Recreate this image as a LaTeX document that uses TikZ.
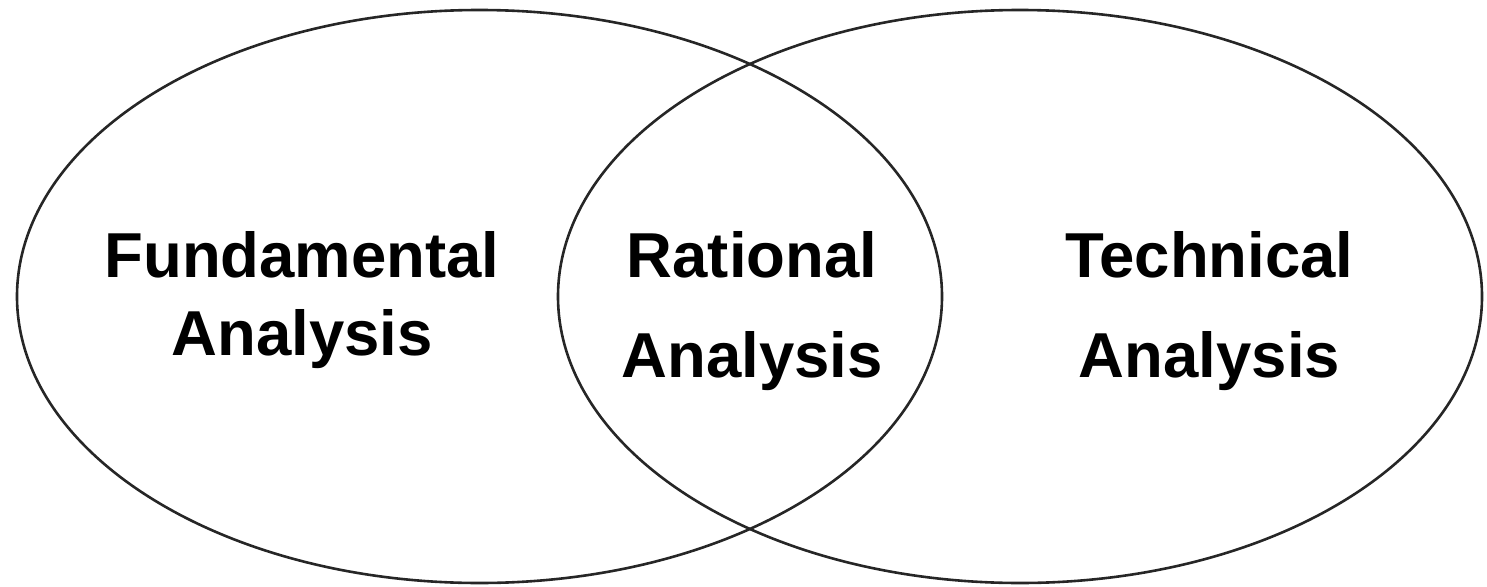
\documentclass[tikz,border=0pt]{standalone}
\usepackage{fontspec}
\setmainfont{Liberation Sans}
\begin{document}
\begin{tikzpicture}[x=1pt,y=-1pt,
  setring/.style={draw=black!85,line width=2.6pt},
  lbl/.style={font=\bfseries\fontsize{63.5}{78}\selectfont,align=center,inner sep=0pt},
  wide/.style={font=\bfseries\fontsize{63.5}{100}\selectfont}]
  \useasboundingbox (0,0) rectangle (1487,586);
  % the two overlapping sets
  \draw[setring] (479.5,296.5) ellipse [x radius=462.5, y radius=286.5];
  \draw[setring] (1020,296.5) ellipse [x radius=462, y radius=286.5];
  % set labels
  \node[lbl] (fund) at (302,300.5) {Fundamental\\Analysis};
  \node[lbl,wide] (rat) at (752,311) {Rational\\Analysis};
  \node[lbl,wide] (tech) at (1209.5,311) {Technical\\Analysis};
\end{tikzpicture}
\end{document}
